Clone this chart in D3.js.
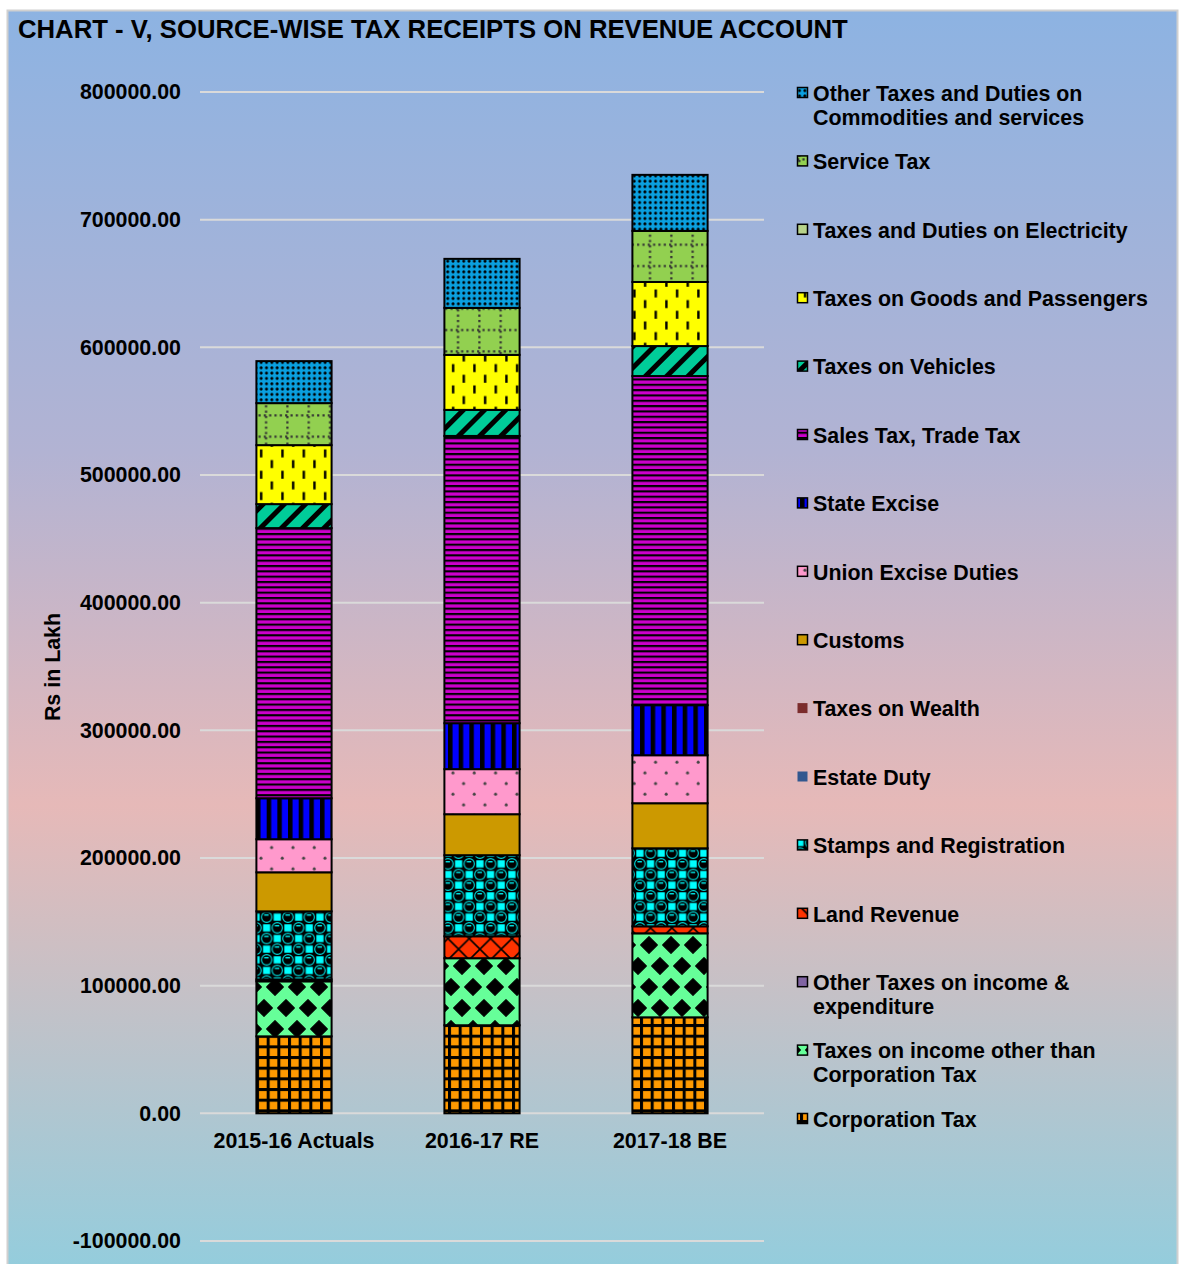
<!DOCTYPE html>
<html><head><meta charset="utf-8">
<script src="https://cdn.jsdelivr.net/npm/d3@7"></script>
<style>html,body{margin:0;padding:0;background:#fff;}svg{display:block;}text{font-family:"Liberation Sans",Arial,sans-serif;font-weight:bold;fill:#000;}</style>
</head><body>
<script>
const categories = ["2015-16 Actuals", "2016-17 RE", "2017-18 BE"];
// values in Rs lakh, bottom of stack first
const corporationTax   = [60300, 69000, 75200];
const incomeTaxOther   = [43100, 52500, 65800];
const otherIncomeTaxes = [0, 0, 0];
const landRevenue      = [1500, 17200, 5500];
const stampsReg        = [53300, 63500, 61100];
const estateDuty       = [0, 0, 0];
const taxesOnWealth    = [0, 0, 0];
const customs          = [30600, 32100, 35300];
const unionExcise      = [25900, 35300, 37600];
const stateExcise      = [32100, 36000, 39200];
const salesTax         = [211600, 225000, 257800];
const taxesOnVehicles  = [18800, 20400, 23500];
const goodsPassengers  = [46200, 43100, 50200];
const electricityTax   = [0, 0, 0];
const serviceTax       = [32900, 36800, 40000];
const otherCommodities = [32900, 38400, 43900];
const yTicks = [-100000, 0, 100000, 200000, 300000, 400000, 500000, 600000, 700000, 800000];

const seriesList = [
  {key:"corp", name:"Corporation Tax", values:corporationTax},
  {key:"income", name:"Taxes on income other than|Corporation Tax", values:incomeTaxOther},
  {key:"otherinc", name:"Other Taxes on income &|expenditure", values:otherIncomeTaxes},
  {key:"land", name:"Land Revenue", values:landRevenue},
  {key:"stamps", name:"Stamps and Registration", values:stampsReg},
  {key:"estate", name:"Estate Duty", values:estateDuty},
  {key:"wealth", name:"Taxes on Wealth", values:taxesOnWealth},
  {key:"customs", name:"Customs", values:customs},
  {key:"union", name:"Union Excise Duties", values:unionExcise},
  {key:"state", name:"State Excise", values:stateExcise},
  {key:"sales", name:"Sales Tax, Trade Tax", values:salesTax},
  {key:"vehicles", name:"Taxes on Vehicles", values:taxesOnVehicles},
  {key:"goods", name:"Taxes on Goods and Passengers", values:goodsPassengers},
  {key:"elec", name:"Taxes and Duties on Electricity", values:electricityTax},
  {key:"service", name:"Service Tax", values:serviceTax},
  {key:"other", name:"Other Taxes and Duties on|Commodities and services", values:otherCommodities}
];

const W = 1179, H = 1264;
const FS = "21.4px";
const svg = d3.select("body").append("svg").attr("width", W).attr("height", H);
const defs = svg.append("defs");

// background gradient
const grad = defs.append("linearGradient").attr("id","bg").attr("x1",0).attr("y1",0).attr("x2",0).attr("y2",1);
[["0%","#8db3e2"],["35%","#b2b3d3"],["63%","#e6b9b8"],["100%","#93cddd"]].forEach(s=>grad.append("stop").attr("offset",s[0]).attr("stop-color",s[1]));

function pat(id, w, h, bg, draw, transform){
  const p = defs.append("pattern").attr("id",id).attr("patternUnits","userSpaceOnUse").attr("width",w).attr("height",h);
  if (transform) p.attr("patternTransform", transform);
  p.append("rect").attr("width",w).attr("height",h).attr("fill",bg);
  draw(p);
  return p;
}
const T = 21.33, t = 10.667;
pat("p-corp", t, t, "#ff9900", p=>{
  p.append("rect").attr("x",0).attr("y",0).attr("width",3).attr("height",t).attr("fill","#000");
  p.append("rect").attr("x",0).attr("y",0).attr("width",t).attr("height",3).attr("fill","#000");
});
pat("p-income", 22, 42, "#66ff99", p=>{
  const d = 8.3;
  [[0,0],[22,0],[0,42],[22,42],[11,21]].forEach(c=>{
    p.append("path").attr("d",`M${c[0]},${c[1]-d}L${c[0]+d},${c[1]}L${c[0]},${c[1]+d}L${c[0]-d},${c[1]}Z`)
      .attr("fill","#000").attr("stroke","#000").attr("stroke-width",1.2).attr("stroke-linejoin","round");
  });
});
pat("p-otherinc", 8, 8, "#8064a2", p=>{});
pat("p-land", T, T, "#ff3300", p=>{
  p.append("path").attr("d",`M0,0L${T},${T}M${T},0L0,${T}`).attr("stroke","#000").attr("stroke-width",1.6);
});
pat("p-stamps", T, T, "#000", p=>{
  [[0,0],[t,t],[T,0],[0,T],[T,T]].forEach(c=>{
    p.append("rect").attr("x",c[0]-3.6).attr("y",c[1]-3.6).attr("width",7.2).attr("height",7.2).attr("fill","#00ffff");
  });
  [[t,0],[0,t],[T,t],[t,T]].forEach(c=>{
    p.append("circle").attr("cx",c[0]).attr("cy",c[1]).attr("r",5.2).attr("fill","none").attr("stroke","#00e0e0").attr("stroke-width",1.1);
    p.append("rect").attr("x",c[0]-2.5).attr("y",c[1]-2.8).attr("width",4.5).attr("height",1.3).attr("fill","#00ffff");
  });
});
pat("p-estate", 8, 8, "#31578f", p=>{});
pat("p-wealth", 8, 8, "#7b2c2c", p=>{});
pat("p-customs", 8, 8, "#cc9900", p=>{});
pat("p-union", T, T, "#ff99cc", p=>{
  [[5,5],[5+t,5+t]].forEach(c=>p.append("circle").attr("cx",c[0]).attr("cy",c[1]).attr("r",1.5).attr("fill","#444"));
});
pat("p-state", t, t, "#0000ff", p=>{
  p.append("rect").attr("x",0).attr("y",0).attr("width",4.5).attr("height",t).attr("fill","#000");
});
pat("p-sales", 8, 5.33, "#cc00cc", p=>{
  p.append("rect").attr("x",0).attr("y",0).attr("width",8).attr("height",2.1).attr("fill","#000");
});
pat("p-vehicles", 15, 15, "#00cc99", p=>{
  p.append("rect").attr("x",0).attr("y",0).attr("width",5).attr("height",15).attr("fill","#000");
}, "rotate(45)");
pat("p-goods", T, T, "#ffff00", p=>{
  [[4,1.5],[4+t,1.5+t]].forEach(c=>p.append("rect").attr("x",c[0]).attr("y",c[1]).attr("width",2.4).attr("height",8).attr("fill","#000"));
});
pat("p-elec", 8, 8, "#b8d38a", p=>{});
pat("p-service", T, T, "#92d050", p=>{
  for (let i=0;i<4;i++){
    p.append("rect").attr("x",9).attr("y",i*5.33).attr("width",2.2).attr("height",2.2).attr("fill","#333");
    p.append("rect").attr("x",i*5.33+2.5).attr("y",9).attr("width",2.2).attr("height",2.2).attr("fill","#333");
  }
});
pat("p-other", 5.33, 5.33, "#0aa0e0", p=>{
  [[0,0],[5.33,0],[0,5.33],[5.33,5.33]].forEach(c=>p.append("circle").attr("cx",c[0]).attr("cy",c[1]).attr("r",1.5).attr("fill","#000"));
});

// frame
svg.append("rect").attr("x",7.5).attr("y",10.5).attr("width",1170).attr("height",1262)
  .attr("fill","url(#bg)").attr("stroke","#d0d0d0").attr("stroke-width",2);

svg.append("text").attr("x",18).attr("y",37.5).style("font-size","25.7px")
  .text("CHART - V, SOURCE-WISE TAX RECEIPTS ON REVENUE ACCOUNT");

const y = d3.scaleLinear().domain([-100000, 800000]).range([1241, 92]);
const x = d3.scaleBand().domain(categories).range([200, 764]).paddingInner(0.6).paddingOuter(0.3);

// gridlines
const grid = svg.append("g");
grid.selectAll("line").data(yTicks).join("line")
  .attr("x1",200).attr("x2",764).attr("y1",d=>y(d)).attr("y2",d=>y(d))
  .attr("stroke","#dadada").attr("stroke-width",2);

// y axis labels
const fmt = d3.formatLocale({decimal:".", thousands:"", grouping:[3], currency:["",""], minus:"-"}).format(".2f");
const yAxis = d3.axisLeft(y).tickValues(yTicks).tickFormat(fmt).tickSize(0).tickPadding(0);
const yg = svg.append("g").attr("transform","translate(181,0)").call(yAxis);
yg.select(".domain").remove();
yg.selectAll("text").style("font-size",FS).style("font-family",'"Liberation Sans",Arial,sans-serif').style("font-weight","bold").attr("fill","#000");

// x axis labels
const xAxis = d3.axisBottom(x).tickSize(0).tickPadding(0);
const xg = svg.append("g").attr("transform","translate(0,1133)").call(xAxis);
xg.select(".domain").remove();
xg.selectAll("text").style("font-size",FS).style("font-family",'"Liberation Sans",Arial,sans-serif').style("font-weight","bold").attr("fill","#000").attr("dy","0.7em");

// y title
svg.append("text").attr("transform","translate(60,667) rotate(-90)").attr("text-anchor","middle")
  .style("font-size",FS).text("Rs in Lakh");

// stack
const rows = categories.map((c,i)=>{ const r={cat:c}; seriesList.forEach(s=>r[s.key]=s.values[i]); return r; });
const stacked = d3.stack().keys(seriesList.map(s=>s.key))(rows);
const barG = svg.append("g");
stacked.forEach(layer=>{
  barG.append("g").selectAll("rect").data(layer.filter(d=>d[1]-d[0]>0)).join("rect")
    .attr("x",d=>x(d.data.cat)).attr("width",x.bandwidth())
    .attr("y",d=>y(d[1])).attr("height",d=>y(d[0])-y(d[1]))
    .attr("fill",`url(#p-${layer.key})`).attr("stroke","#000").attr("stroke-width",2);
});

// legend (reverse order)
const legendItems = seriesList.slice().reverse();
const lg = svg.append("g");
legendItems.forEach((s,i)=>{
  const cy = 93 + i*68.4;
  const noStroke = (s.key==="wealth"||s.key==="estate");
  lg.append("rect").attr("x",797.5).attr("y",cy-5.5).attr("width",10).attr("height",10)
    .attr("fill",`url(#p-${s.key})`).attr("stroke",noStroke?"none":"#000").attr("stroke-width",1.5);
  const lines = s.name.split("|");
  lines.forEach((ln,j)=>{
    lg.append("text").attr("x",813).attr("y",cy+j*24).attr("dy","0.36em").style("font-size",FS).text(ln);
  });
});
</script>
</body></html>
